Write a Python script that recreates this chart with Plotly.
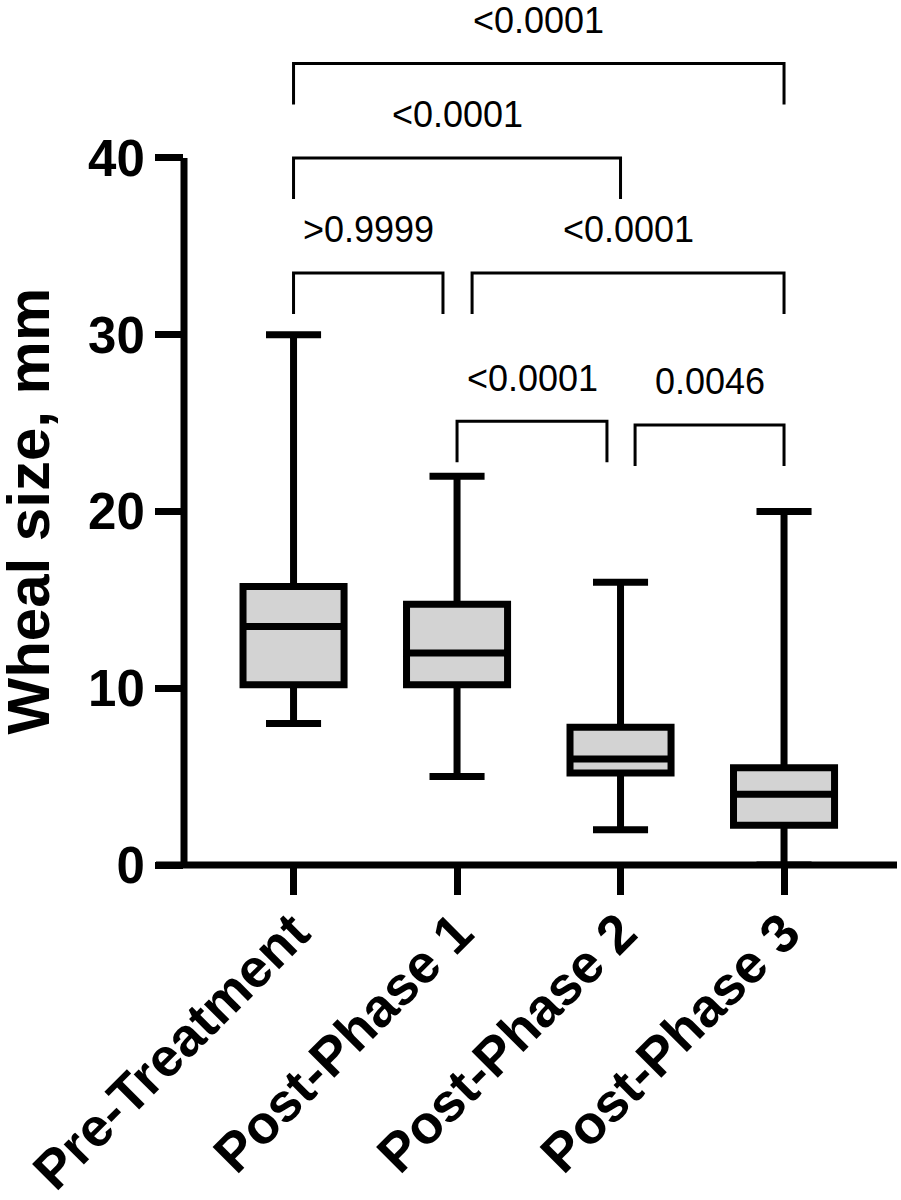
import plotly.graph_objects as go

# ---------------- data ----------------
categories = ["Pre-Treatment", "Post-Phase 1", "Post-Phase 2", "Post-Phase 3"]
lower_whisker = [8.0, 5.0, 2.0, 0.0]
q1_values = [10.2, 10.2, 5.2, 2.25]
median_values = [13.5, 12.0, 6.0, 4.0]
q3_values = [15.75, 14.75, 7.8, 5.5]
upper_whisker = [30.0, 22.0, 16.0, 20.0]

# pairwise comparisons: group indices and p-value labels
comp_a = [0, 1, 0, 0, 1, 2]
comp_b = [1, 3, 2, 3, 2, 3]
p_labels = [">0.9999", "<0.0001", "<0.0001", "<0.0001", "<0.0001", "0.0046"]

# bracket layout (heights in axis units, end trims in category units)
bracket_level = [33.5, 33.5, 40.0, 45.35, 25.1, 24.9]
trim_a = [0.0, 0.092, 0.0, 0.0, 0.0, 0.089]
trim_b = [0.086, 0.0, 0.0, 0.0, 0.083, 0.0]
bracket_drop = 2.32
label_gap = 2.45

y_ticks = [0, 10, 20, 30, 40]

# ---------------- figure ----------------
FONT = "Liberation Sans, Arial, sans-serif"
fig = go.Figure()

for i, cat in enumerate(categories):
    fig.add_trace(go.Box(
        x=[i],
        q1=[q1_values[i]],
        median=[median_values[i]],
        q3=[q3_values[i]],
        lowerfence=[lower_whisker[i]],
        upperfence=[upper_whisker[i]],
        name=cat,
        width=0.618,
        whiskerwidth=0.545,
        fillcolor="#d3d3d3",
        line=dict(color="black", width=7),
        boxpoints=False,
        hoverinfo="skip",
        showlegend=False,
    ))

bx, by = [], []
for a, b, lvl, ta, tb in zip(comp_a, comp_b, bracket_level, trim_a, trim_b):
    x0 = a + ta
    x1 = b - tb
    bx += [x0, x0, x1, x1, None]
    by += [lvl - bracket_drop, lvl, lvl, lvl - bracket_drop, None]
fig.add_trace(go.Scatter(x=bx, y=by, mode="lines",
                         line=dict(color="black", width=3),
                         hoverinfo="skip", showlegend=False))

for a, b, lvl, ta, tb, lab in zip(comp_a, comp_b, bracket_level, trim_a, trim_b, p_labels):
    fig.add_annotation(x=(a + ta + b - tb) / 2, y=lvl + label_gap, xref="x", yref="y",
                       text=lab, showarrow=False, xanchor="center", yanchor="middle",
                       font=dict(family=FONT, size=36, color="black"))

# axis lines drawn as shapes (y axis only spans 0-40, like the original)
plot_w = 901 - 184 - 4
fig.add_shape(type="line", xref="paper", yref="paper",
              x0=-28 / plot_w, x1=1, y0=0, y1=0,
              line=dict(color="black", width=7), layer="above")
fig.add_shape(type="line", xref="paper", yref="y",
              x0=0, x1=0, y0=y_ticks[0], y1=y_ticks[-1],
              line=dict(color="black", width=7), layer="above")

fig.add_annotation(text="Wheal size, mm", xref="paper", yref="y",
                   x=(28 - 184) / plot_w, y=(y_ticks[0] + y_ticks[-1]) / 2,
                   textangle=-90, showarrow=False, xanchor="center", yanchor="middle",
                   font=dict(family=FONT, size=60, color="black", weight="bold"))

fig.update_layout(
    width=901, height=1200,
    margin=dict(l=184, r=4, t=15, b=335, autoexpand=False),
    paper_bgcolor="white", plot_bgcolor="white",
    showlegend=False,
    xaxis=dict(
        range=[-0.670, 3.691],
        tickvals=list(range(len(categories))),
        ticktext=categories,
        tickangle=-45,
        ticks="outside", ticklen=29, tickwidth=7, tickcolor="black",
        ticklabelstandoff=-16,
        automargin=False,
        showline=False, showgrid=False, zeroline=False,
        tickfont=dict(family=FONT, size=54, color="black", weight="bold"),
    ),
    yaxis=dict(
        range=[0, 48.09],
        tickvals=y_ticks,
        ticks="outside", ticklen=28, tickwidth=7, tickcolor="black",
        automargin=False,
        showline=False, showgrid=False, zeroline=False,
        tickfont=dict(family=FONT, size=51, color="black", weight="bold"),
    ),
)

fig.write_html("out.html", config={"displayModeBar": False},
               post_script="document.body.style.margin='0';")
